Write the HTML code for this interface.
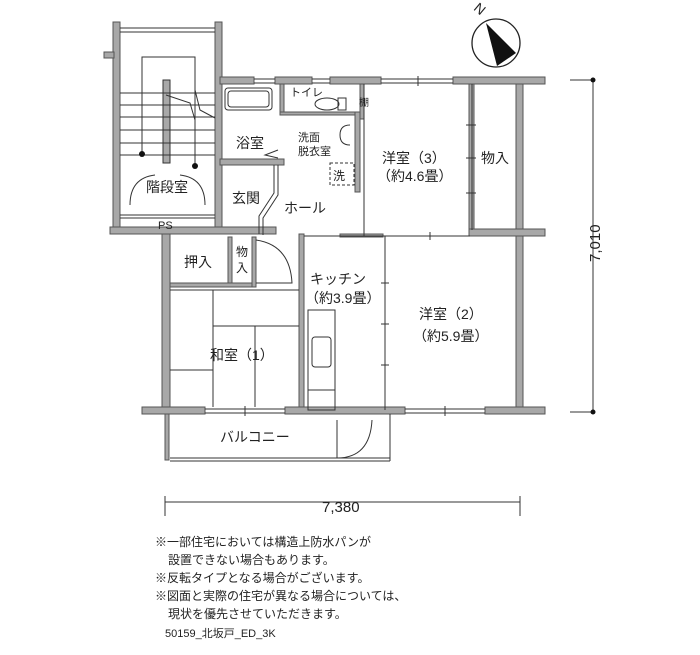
<!DOCTYPE html>
<html><head><meta charset="utf-8"><style>
body{margin:0;background:#fff;width:700px;height:650px;overflow:hidden}
svg text{font-family:"Liberation Sans","Noto Sans CJK JP",sans-serif;fill:#222}
</style></head><body>
<svg width="700" height="650" viewBox="0 0 700 650" xmlns="http://www.w3.org/2000/svg">
<g fill="#a8a8a8" stroke="#555" stroke-width="1">
<rect x="113" y="22" width="7" height="212"/>
<rect x="215" y="22" width="7" height="212"/>
<rect x="104" y="52" width="10" height="6"/>
<rect x="110" y="227" width="166" height="7"/>
<rect x="220" y="77" width="34" height="7"/>
<rect x="275" y="77" width="37" height="7"/>
<rect x="330" y="77" width="51" height="7"/>
<rect x="453" y="77" width="92" height="7"/>
<rect x="280" y="84" width="4" height="30"/>
<rect x="220" y="159" width="64" height="6"/>
<rect x="280" y="112" width="76" height="3"/>
<rect x="355" y="112" width="5" height="80"/>
<rect x="360" y="84" width="4" height="35"/>
<rect x="469" y="84" width="5" height="146"/>
<rect x="516" y="84" width="7" height="326"/>
<rect x="469" y="229" width="76" height="7"/>
<rect x="340" y="234" width="43" height="3"/>
<rect x="162" y="234" width="8" height="176"/>
<rect x="228" y="237" width="4" height="50"/>
<rect x="170" y="283" width="82" height="4"/>
<rect x="299" y="234" width="5" height="176"/>
<rect x="252" y="237" width="4" height="50"/>
<rect x="142" y="407" width="63" height="7"/>
<rect x="285" y="407" width="120" height="7"/>
<rect x="485" y="407" width="60" height="7"/>
<rect x="165" y="414" width="4" height="46"/>
</g>
<g fill="none" stroke="#333" stroke-width="1">
<line x1="120" y1="28" x2="215" y2="28"/><line x1="120" y1="32" x2="215" y2="32"/>
<polyline points="142,154 142,57 195,57 195,166"/>
<rect x="163" y="80" width="7" height="83" fill="#a8a8a8"/>
<line x1="120" y1="93" x2="215" y2="93"/><line x1="120" y1="105" x2="215" y2="105"/>
<line x1="120" y1="117" x2="215" y2="117"/><line x1="120" y1="130" x2="215" y2="130"/>
<line x1="120" y1="143" x2="215" y2="143"/><line x1="120" y1="155" x2="215" y2="155"/>
<polyline points="166,95 190,103 195,120"/><polyline points="195,90 200,110 215,118"/>
<path d="M130 205 Q130 178 155 175 M205 205 Q205 178 180 175"/>
<line x1="120" y1="215" x2="215" y2="215"/><line x1="120" y1="218" x2="215" y2="218"/>
<line x1="254" y1="79" x2="275" y2="79"/><line x1="254" y1="83" x2="275" y2="83"/>
<line x1="312" y1="79" x2="330" y2="79"/><line x1="312" y1="83" x2="330" y2="83"/>
<line x1="381" y1="79" x2="453" y2="79"/><line x1="381" y1="83" x2="453" y2="83"/>
<line x1="418" y1="76" x2="418" y2="86"/>
<line x1="205" y1="409" x2="285" y2="409"/><line x1="205" y1="413" x2="285" y2="413"/>
<line x1="245" y1="406" x2="245" y2="416"/>
<line x1="405" y1="409" x2="485" y2="409"/><line x1="405" y1="413" x2="485" y2="413"/>
<line x1="445" y1="406" x2="445" y2="416"/>
<rect x="225" y="88" width="47" height="22" rx="3"/>
<rect x="228" y="91" width="41" height="16" rx="3"/>
<polyline points="278,150 265,155 278,158"/>
<ellipse cx="327" cy="104" rx="12" ry="6"/><rect x="338" y="98" width="8" height="12"/>
<path d="M350 125 Q340 125 340 135 Q340 145 350 145"/>
<rect x="330" y="163" width="24" height="22" stroke-dasharray="3,2"/>
<line x1="364" y1="84" x2="364" y2="236"/>
<polyline points="278,165 278,195 263,218 263,235"/>
<polyline points="274,165 274,193 259,216 259,234"/>
<line x1="304" y1="236" x2="470" y2="236"/>
<line x1="472" y1="84" x2="472" y2="230"/>
<line x1="466" y1="125" x2="476" y2="125"/><line x1="466" y1="158" x2="476" y2="158"/><line x1="466" y1="193" x2="476" y2="193"/>
<line x1="430" y1="232" x2="430" y2="240"/>
<path d="M256 240 Q290 245 292 283 L256 283"/>
<path d="M337 420 L337 458 Q370 458 372 420"/>
<line x1="385" y1="236" x2="385" y2="410"/>
<line x1="381" y1="283" x2="389" y2="283"/><line x1="381" y1="324" x2="389" y2="324"/><line x1="381" y1="365" x2="389" y2="365"/>
<rect x="308" y="310" width="27" height="100"/>
<rect x="312" y="337" width="19" height="30" rx="3"/>
<line x1="308" y1="390" x2="335" y2="390"/>
<line x1="170" y1="290" x2="299" y2="290"/>
<line x1="213" y1="290" x2="213" y2="407"/>
<line x1="213" y1="326" x2="299" y2="326"/>
<line x1="170" y1="370" x2="213" y2="370"/>
<line x1="255" y1="326" x2="255" y2="407"/>
<line x1="170" y1="458" x2="390" y2="458"/><line x1="170" y1="461" x2="390" y2="461"/>
<line x1="390" y1="414" x2="390" y2="461"/>
<line x1="165" y1="502" x2="520" y2="502"/>
<line x1="165" y1="496" x2="165" y2="516"/><line x1="520" y1="496" x2="520" y2="516"/>
<line x1="593" y1="80" x2="593" y2="412"/>
<line x1="570" y1="80" x2="593" y2="80"/><line x1="570" y1="412" x2="593" y2="412"/>
</g>
<circle cx="593" cy="80" r="2.5" fill="#111"/><circle cx="593" cy="412" r="2.5" fill="#111"/>
<circle cx="142" cy="154" r="3" fill="#111"/><circle cx="195" cy="166" r="3" fill="#111"/>
<circle cx="496" cy="43" r="24" fill="#fff" stroke="#222" stroke-width="1.3"/>
<polygon points="486,23 516,53 497,66" fill="#111"/>
<text x="474" y="14" font-size="14" transform="rotate(40 480 10)">N</text>
<g font-size="14">
<text x="236" y="148">浴室</text>
<text x="290" y="96" font-size="11">トイレ</text>
<text x="359" y="106" font-size="10">棚</text>
<text x="298" y="141" font-size="11">洗面</text><text x="298" y="155" font-size="11">脱衣室</text>
<text x="333" y="180" font-size="12">洗</text>
<text x="146" y="192">階段室</text>
<text x="158" y="229" font-size="11">PS</text>
<text x="232" y="203">玄関</text>
<text x="284" y="213">ホール</text>
<text x="382" y="163">洋室（3）</text>
<text x="377" y="181">（約4.6畳）</text>
<text x="481" y="163">物入</text>
<text x="184" y="267">押入</text>
<text x="236" y="256" font-size="12">物</text><text x="236" y="272" font-size="12">入</text>
<text x="310" y="284">キッチン</text>
<text x="305" y="303">（約3.9畳）</text>
<text x="419" y="319">洋室（2）</text>
<text x="413" y="341">（約5.9畳）</text>
<text x="210" y="360">和室（1）</text>
<text x="220" y="442">バルコニー</text>
<text x="322" y="512" font-size="15">7,380</text>
<text x="0" y="0" font-size="15" transform="translate(600 262) rotate(-90)">7,010</text>
<text x="155" y="546" font-size="12">※一部住宅においては構造上防水パンが</text>
<text x="168" y="564" font-size="12">設置できない場合もあります。</text>
<text x="155" y="582" font-size="12">※反転タイプとなる場合がございます。</text>
<text x="155" y="600" font-size="12">※図面と実際の住宅が異なる場合については、</text>
<text x="168" y="618" font-size="12">現状を優先させていただきます。</text>
<text x="165" y="637" font-size="11">50159_北坂戸_ED_3K</text>
</g>
</svg>
</body></html>
